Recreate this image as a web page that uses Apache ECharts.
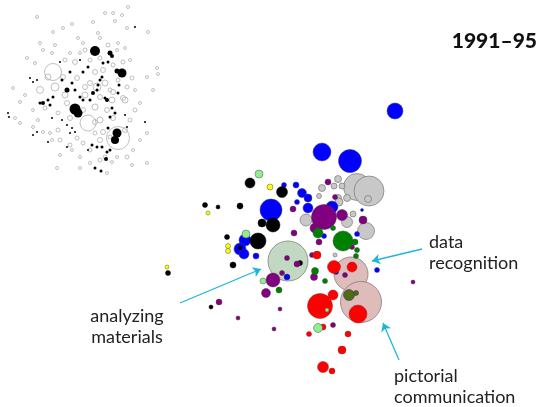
<!DOCTYPE html>
<html><head><meta charset="utf-8">
<script src="https://cdn.jsdelivr.net/npm/echarts@6/dist/echarts.min.js"></script>
<style>html,body{margin:0;padding:0;background:#fff}#c{width:541px;height:407px}</style>
</head><body><div id="c"></div>
<script>
// Each point: [x, y, size]
const hatchGreen = [[288,261,40]];
const hatchPink = [[351,274,34],[361,302,41]];
const gray = [[357,187,27],[369,191,30],[368,199,7],[338,179,7],[322,188,7],[334,186,6],[342,186,6],[319,196,5],[338,198,7],[347,198,7],[339,202,8],[306,220,12],[353,214,6],[347,222,11],[366,231,17],[335,255,4]];
const blue = [[395,111,16],[322,152,18],[350,161,23],[284,185,5],[296,185,6],[302,193,9],[308,198,8],[297,202,5],[308,208,10],[332,207,12],[271,210,22],[362,210,3],[245,240,12],[240,249,12],[244,254,10],[256,256,6],[324,236,5],[357,234,5],[287,277,6],[336,272,5],[377,270,5]];
const black = [[250,183,10],[282,192,11],[205,205,5],[218,207,4],[240,206,6],[262,223,8],[273,225,14],[227,237,5],[258,241,16],[240,248,4],[233,265,6],[168,273,5],[211,307,4],[300,263,5]];
const purple = [[328,182,6],[293,209,6],[335,197,5],[324,217,25],[342,215,11],[363,220,8],[315,228,10],[294,233,6],[319,242,6],[352,247,5],[312,255,5],[287,258,5],[297,264,6],[282,273,5],[273,280,14],[266,293,9],[219,302,6],[238,318,4],[280,309,4],[274,329,4],[314,277,7],[345,275,5],[413,282,4],[333,325,5]];
const green = [[318,233,10],[333,228,5],[343,241,20],[355,242,6],[357,250,5],[356,256,5],[315,271,7],[325,281,5],[279,290,6]];
const olive = [[349,295,11],[356,293,5]];
const red = [[317,255,8],[334,267,13],[352,267,10],[333,295,10],[320,306,25],[358,314,18],[323,327,6],[309,334,5],[348,334,6],[342,350,8],[323,367,11],[332,371,6]];
const yellow = [[270,187,6],[208,213,4],[228,246,5],[228,251,5],[167,267,4]];
const lightGreen = [[259,174,8],[246,234,8],[263,281,6],[327,310,4],[318,328,9]];

const insetGray = [[128,7,3],[37,17,3],[105,13,3],[113,13,3],[122,15,3],[115,21,3],[93,22,3],[72,24,3],[63,28,3],[53,32,3],[148,32,3],[127,28,3],[98,33,3],[100,38,3],[78,38,3],[40,43,3],[55,45,3],[43,50,3],[83,43,3],[118,43,3],[125,48,3],[117,50,3],[52,53,3],[27,58,3],[70,53,3],[80,53,3],[90,60,4],[100,58,4],[130,60,3],[123,62,4],[35,63,3],[157,68,3],[147,77,3],[158,74,3],[132,78,4],[135,90,3],[127,87,4],[123,98,5],[140,103,3],[153,90,3],[13,88,3],[25,95,3],[20,102,3],[15,118,3],[20,123,3],[33,110,3],[38,120,3],[33,127,3],[43,132,3],[50,133,3],[52,140,3],[58,130,4],[147,133,3],[140,140,3],[133,150,3],[127,157,4],[117,157,3],[112,162,3],[100,160,4],[90,163,3],[80,157,3],[72,150,3],[60,155,3],[83,143,4],[77,138,4],[105,157,4],[132,165,3],[147,163,3],[57,168,3],[80,168,3],[107,173,3],[90,83,5],[100,97,5],[110,90,4],[107,110,5],[95,107,6],[83,110,5],[67,103,5],[58,113,4],[63,77,5],[77,78,5],[85,87,5],[95,72,5],[103,70,5],[113,65,4],[118,80,4],[113,92,5],[95,122,5],[103,132,5],[95,133,4],[100,140,5],[110,137,4],[90,150,4],[53,72,17],[88,123,16],[118,138,23],[40,90,7],[55,87,8],[48,77,6],[97,87,8],[125,100,6],[70,118,5],[65,95,6],[85,95,6],[105,83,6],[112,100,6],[100,120,6],[75,62,5],[85,50,4],[108,45,4],[65,60,4],[45,108,4],[60,140,4],[70,145,4],[113,118,5],[130,120,4],[135,110,4],[125,130,5]];
const insetBlack = [[95,51,10],[110,53,5],[112,56,4],[135,27,2],[122,73,9],[117,71,5],[75,109,11],[78,113,9],[117,133,9],[115,140,8],[67,90,5],[60,62,2],[62,80,3],[100,80,3],[98,85,3],[97,90,3],[102,77,3],[107,100,4],[105,98,3],[110,117,3],[112,108,3],[93,93,4],[90,100,3],[83,100,3],[80,97,3],[75,90,3],[70,72,3],[72,83,3],[83,72,3],[88,67,3],[80,60,2],[103,63,3],[108,62,3],[118,93,3],[119,85,3],[33,135,2],[37,132,2],[48,142,2],[67,147,2],[70,133,2],[92,145,3],[97,147,3],[102,147,3],[88,150,2],[107,152,3],[110,150,3],[106,159,4],[95,168,3],[101,171,3],[43,103,4],[48,100,3],[50,105,3],[53,97,3],[40,103,3],[30,78,2],[33,82,2],[37,80,2],[8,113,2],[9,117,2],[145,122,2],[127,127,2],[125,115,2],[115,113,3],[108,128,3],[52,118,2],[62,120,2],[67,125,2],[72,128,2],[75,132,2]];

const arrows = [
  [[180,303],[261,269]],
  [[422,249],[372,261]],
  [[399,360],[383,323]]
];
const labels = [
  {text:'analyzing\nmaterials', x:127, y:306, align:'center'},
  {text:'data\nrecognition', x:429, y:232, align:'left'},
  {text:'pictorial\ncommunication', x:394, y:366, align:'left'}
];
const title = '1991–95';

const chart = echarts.init(document.getElementById('c'), null, {renderer:'canvas'});
const sz = v => v[2];
function sc(name, data, color, border, bw, z){
  return {name, type:'scatter', data, symbolSize: sz, z: z,
    itemStyle:{color, borderColor:border, borderWidth:bw, opacity:1}, emphasis:{disabled:true}, silent:true};
}
const series = [
  sc('insetGray', insetGray, 'rgba(255,255,255,0)', '#b0b0b0', 0.8, 1),
  sc('insetBlack', insetBlack, '#000', '#000', 0, 2),
  sc('hatchGreen', hatchGreen, '#c2d8c2', '#7a8a7a', 0.8, 3),
  sc('hatchPink', hatchPink, '#dfbcbc', '#8a7a7a', 0.8, 3),
  sc('gray', gray, '#c8c8c8', '#666', 0.6, 4),
  sc('blue', blue, '#0000ff', '#3a3a8a', 0.5, 5),
  sc('black', black, '#000', '#000', 0.5, 6),
  sc('purple', purple, '#800080', '#4a304a', 0.5, 7),
  sc('green', green, '#008000', '#2a502a', 0.5, 8),
  sc('olive', olive, '#4e6b1e', '#333', 0.5, 9),
  sc('red', red, '#ff0000', '#8a2a2a', 0.5, 10),
  sc('yellow', yellow, '#ffff00', '#555', 0.5, 11),
  sc('lightGreen', lightGreen, '#90ee90', '#555', 0.5, 12),
  {type:'lines', coordinateSystem:'cartesian2d', z:20, silent:true,
   symbol:['none','arrow'], symbolSize:[0,8],
   lineStyle:{color:'#1fb5d8', width:1.3, opacity:1, curveness:0},
   data: arrows.map(a=>({coords:a}))}
];
const textEls = labels.map(l=>({type:'text', x:l.x, y:l.y, z:30,
  style:{text:l.text, font:'18px Lato, "Open Sans", sans-serif', fill:'#222', lineHeight:21, align:l.align, verticalAlign:'top'}}));
chart.setOption({
  animation:false,
  grid:{left:0,right:0,top:0,bottom:0},
  xAxis:{type:'value', min:0, max:541, show:false},
  yAxis:{type:'value', min:0, max:407, inverse:true, show:false},
  series,
  graphic:[
    {type:'text', right:4, top:31, z:30, style:{text:title, font:'900 21px Lato, "DejaVu Sans", sans-serif', fill:'#111'}},
    ...textEls
  ]
});
</script></body></html>
